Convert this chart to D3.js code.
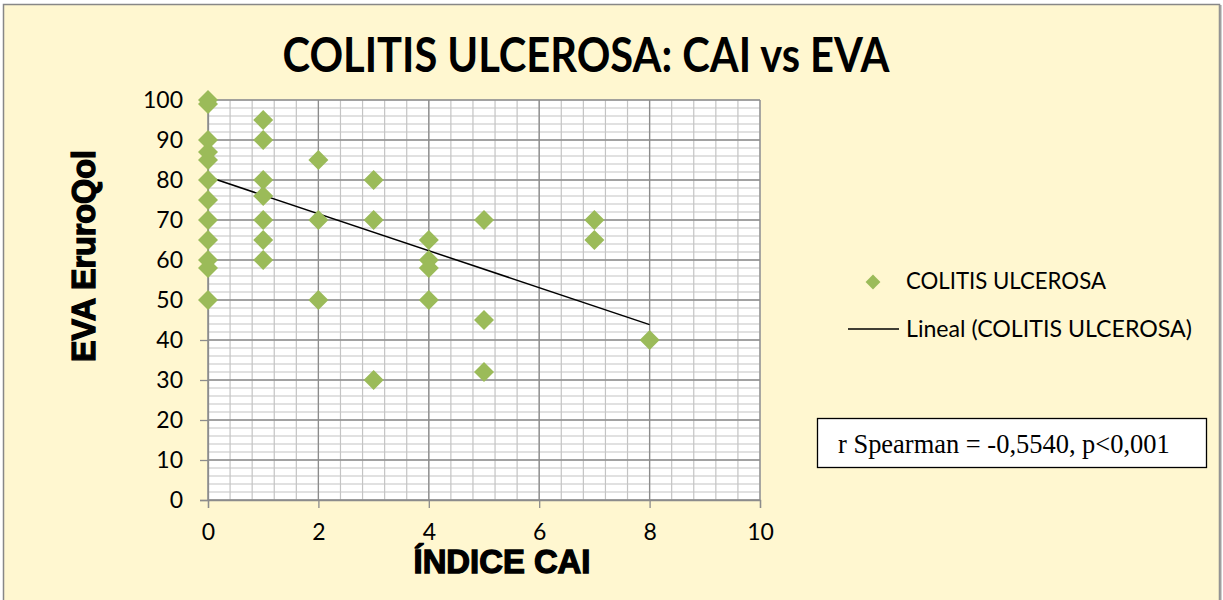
<!DOCTYPE html>
<html>
<head>
<meta charset="utf-8">
<script src="https://cdn.jsdelivr.net/npm/d3@7"></script>
<style>
  html, body { margin: 0; padding: 0; background: #fff; }
  svg { display: block; }
</style>
</head>
<body>
<svg id="chart" width="1223" height="600"></svg>
<script>
const width = 1223;
const height = 600;

// data: CAI index (x) and EVA EuroQol score (y)
const caiIndex = [
  0, 0, 0, 0, 0, 0, 0, 0, 0, 0, 0, 0,
  1, 1, 1, 1, 1, 1, 1,
  2, 2, 2,
  3, 3, 3,
  4, 4, 4, 4,
  5, 5, 5,
  7, 7,
  8
];
const evaScore = [
  100, 99, 90, 87, 85, 80, 75, 70, 65, 60, 58, 50,
  95, 90, 80, 76, 70, 65, 60,
  85, 70, 50,
  80, 70, 30,
  65, 60, 58, 50,
  70, 45, 32,
  70, 65,
  40
];

// linear trend line as drawn by the spreadsheet
const trendIntercept = 80.8;
const trendSlope = -4.62;
const trendRange = [0, 8];

const xTicks = [0, 2, 4, 6, 8, 10];
const yTicks = [0, 10, 20, 30, 40, 50, 60, 70, 80, 90, 100];

const chartTitle = "COLITIS ULCEROSA: CAI vs EVA";
const xTitle = "ÍNDICE CAI";
const yTitle = "EVA EruroQol";
const seriesName = "COLITIS ULCEROSA";
const trendName = "Lineal (COLITIS ULCEROSA)";
const statText = "r Spearman = -0,5540, p<0,001";

const green = "#9bbb59";
const sans = "Lato, 'Open Sans', sans-serif";
const heavy = "'Liberation Sans', Arial, sans-serif";

const svg = d3.select("#chart");

// outer chart frame
svg.append("rect")
    .attr("x", 3.5).attr("y", 4.5)
    .attr("width", 1216).attr("height", 610)
    .attr("fill", "#fff7d0")
    .attr("stroke", "#878787")
    .attr("stroke-width", 1.5);
svg.append("line")
    .attr("x1", 1220.5).attr("x2", 1220.5)
    .attr("y1", 5).attr("y2", 600)
    .attr("stroke", "#a0a0a0").attr("stroke-width", 2);

// plot area
const plot = {left: 208, right: 760, top: 100, bottom: 500};

const x = d3.scaleLinear().domain([0, 10]).range([plot.left, plot.right]);
const y = d3.scaleLinear().domain([0, 100]).range([plot.bottom, plot.top]);

const g = svg.append("g");

g.append("rect")
    .attr("x", plot.left).attr("y", plot.top)
    .attr("width", plot.right - plot.left)
    .attr("height", plot.bottom - plot.top)
    .attr("fill", "#fff");

// minor grid
const minorX = d3.range(0, 10.0001, 0.4);
const minorY = d3.range(0, 100.0001, 2);
g.append("g").selectAll("line")
  .data(minorX)
  .enter().append("line")
    .attr("x1", d => x(d)).attr("x2", d => x(d))
    .attr("y1", plot.top).attr("y2", plot.bottom)
    .attr("stroke", "#c4c4c4").attr("stroke-width", 1.2);
g.append("g").selectAll("line")
  .data(minorY)
  .enter().append("line")
    .attr("x1", plot.left).attr("x2", plot.right)
    .attr("y1", d => y(d)).attr("y2", d => y(d))
    .attr("stroke", "#c4c4c4").attr("stroke-width", 1.2);

// major grid
g.append("g").selectAll("line")
  .data(xTicks)
  .enter().append("line")
    .attr("x1", d => x(d)).attr("x2", d => x(d))
    .attr("y1", plot.top).attr("y2", plot.bottom)
    .attr("stroke", "#8c8c8c").attr("stroke-width", 1.3);
g.append("g").selectAll("line")
  .data(yTicks)
  .enter().append("line")
    .attr("x1", plot.left).attr("x2", plot.right)
    .attr("y1", d => y(d)).attr("y2", d => y(d))
    .attr("stroke", "#8c8c8c").attr("stroke-width", 1.3);

// axes
const xAxis = d3.axisBottom(x).tickValues(xTicks).tickSize(8).tickPadding(16);
const yAxis = d3.axisLeft(y).tickValues(yTicks).tickSize(8).tickPadding(17);

const gx = g.append("g")
    .attr("transform", `translate(0,${plot.bottom})`)
    .call(xAxis);
const gy = g.append("g")
    .attr("transform", `translate(${plot.left},0)`)
    .call(yAxis);

[gx, gy].forEach(a => {
    a.select(".domain").attr("stroke", "#8c8c8c").attr("stroke-width", 1.3);
    a.selectAll(".tick line").attr("stroke", "#8c8c8c").attr("stroke-width", 1.3);
    a.selectAll(".tick text")
        .attr("fill", "#000")
        .attr("font-family", sans)
        .attr("font-size", 23);
});

// trend line
g.append("line")
    .attr("x1", x(trendRange[0]))
    .attr("y1", y(trendIntercept + trendSlope * trendRange[0]))
    .attr("x2", x(trendRange[1]))
    .attr("y2", y(trendIntercept + trendSlope * trendRange[1]))
    .attr("stroke", "#000")
    .attr("stroke-width", 1.5);

// points
const points = caiIndex.map((c, i) => ({cai: c, eva: evaScore[i]}));
const diamond = d3.symbol().type(d3.symbolSquare).size(200);

g.selectAll(".pt")
  .data(points)
  .enter().append("path")
    .attr("class", "pt")
    .attr("d", diamond)
    .attr("transform", d => `translate(${x(d.cai)},${y(d.eva)}) rotate(45)`)
    .attr("fill", green);

// fit a text element to a target width
function fitWidth(t, target) {
    const w = t.node().getComputedTextLength();
    const fs = +t.attr("font-size");
    t.attr("font-size", fs * target / w);
}

// title (stretched a bit vertically, the original face is narrower)
const title = svg.append("text")
    .attr("transform", "translate(586,72) scale(1,1.13)")
    .attr("text-anchor", "middle")
    .attr("font-family", sans)
    .attr("font-weight", "bold")
    .attr("font-size", 44)
    .attr("fill", "#000")
    .text(chartTitle);
fitWidth(title, 607);

// axis titles (heavy face)
const xt = svg.append("text")
    .attr("x", 502).attr("y", 573)
    .attr("text-anchor", "middle")
    .attr("font-family", heavy)
    .attr("font-weight", "bold")
    .attr("font-size", 26)
    .attr("stroke", "#000").attr("stroke-width", 1.3)
    .attr("fill", "#000")
    .text(xTitle);
fitWidth(xt, 177);

const yt = svg.append("text")
    .attr("transform", "translate(95,256) rotate(-90)")
    .attr("text-anchor", "middle")
    .attr("font-family", heavy)
    .attr("font-weight", "bold")
    .attr("font-size", 26)
    .attr("stroke", "#000").attr("stroke-width", 1.3)
    .attr("fill", "#000")
    .text(yTitle);
fitWidth(yt, 212);

// legend
const legend = svg.append("g");
legend.append("path")
    .attr("d", d3.symbol().type(d3.symbolSquare).size(110))
    .attr("transform", "translate(873,282) rotate(45)")
    .attr("fill", green);
const l1 = legend.append("text")
    .attr("x", 906).attr("y", 289)
    .attr("font-family", sans)
    .attr("font-size", 20)
    .text(seriesName);
fitWidth(l1, 200);
legend.append("line")
    .attr("x1", 848).attr("x2", 899)
    .attr("y1", 329).attr("y2", 329)
    .attr("stroke", "#000").attr("stroke-width", 1.3);
const l2 = legend.append("text")
    .attr("x", 906).attr("y", 337)
    .attr("font-family", sans)
    .attr("font-size", 20)
    .text(trendName);
fitWidth(l2, 286);

// statistics box
svg.append("rect")
    .attr("x", 817.5).attr("y", 418.5)
    .attr("width", 389).attr("height", 49)
    .attr("fill", "#fff")
    .attr("stroke", "#000")
    .attr("stroke-width", 1.3);
const st = svg.append("text")
    .attr("x", 838).attr("y", 453)
    .attr("font-family", "'Liberation Serif', 'Times New Roman', serif")
    .attr("font-size", 21)
    .text(statText);
fitWidth(st, 332);
</script>
</body>
</html>
